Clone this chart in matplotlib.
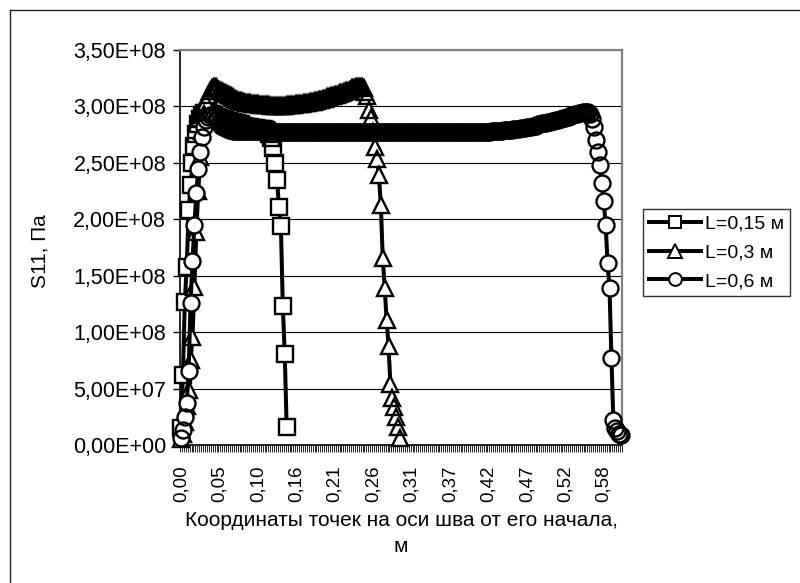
import numpy as np
import matplotlib
matplotlib.use('Agg')
import matplotlib.pyplot as plt
from matplotlib.lines import Line2D
from matplotlib.ticker import FixedLocator

plt.rcParams['font.family'] = ['Liberation Sans', 'DejaVu Sans']

# ---------------- data ----------------
n_categories = 230
label_every = 20
x_tick_labels = ['0,00', '0,05', '0,10', '0,16', '0,21', '0,26',
                 '0,31', '0,37', '0,42', '0,47', '0,52', '0,58']

y_ticks = [0.0, 0.5e8, 1.0e8, 1.5e8, 2.0e8, 2.5e8, 3.0e8, 3.5e8]
y_tick_labels = ['0,00E+00', '5,00E+07', '1,00E+08', '1,50E+08',
                 '2,00E+08', '2,50E+08', '3,00E+08', '3,50E+08']

series_names = ['L=0,15 м', 'L=0,3 м', 'L=0,6 м']

# S11 values in units of 1e8 Pa
s11_L015 = [
    0.15, 0.62, 1.27, 1.58, 2.08, 2.30, 2.50, 2.65, 2.76, 2.84,
    2.89, 2.92, 2.94, 2.94, 2.94, 2.93, 2.93, 2.92, 2.91, 2.91,
    2.90, 2.89, 2.89, 2.88, 2.87, 2.87, 2.86, 2.86, 2.85, 2.85,
    2.84, 2.84, 2.83, 2.83, 2.82, 2.82, 2.82, 2.81, 2.81, 2.81,
    2.80, 2.80, 2.80, 2.80, 2.79, 2.78, 2.76, 2.72, 2.63, 2.50,
    2.35, 2.11, 1.94, 1.23, 0.81, 0.16,
]

s11_L03 = [
    0.05, 0.10, 0.20, 0.35, 0.49, 0.75, 0.96, 1.40, 1.89, 2.25,
    2.55, 2.78, 2.93, 3.04, 3.10, 3.14, 3.16, 3.17, 3.17, 3.16,
    3.15, 3.14, 3.13, 3.12, 3.11, 3.10, 3.09, 3.08, 3.07, 3.06,
    3.05, 3.05, 3.04, 3.04, 3.03, 3.03, 3.03, 3.02, 3.02, 3.02,
    3.02, 3.01, 3.01, 3.01, 3.01, 3.01, 3.01, 3.00, 3.00, 3.00,
    3.00, 3.00, 3.00, 3.00, 3.00, 3.01, 3.01, 3.01, 3.01, 3.01,
    3.02, 3.02, 3.02, 3.02, 3.03, 3.03, 3.03, 3.04, 3.04, 3.04,
    3.05, 3.05, 3.06, 3.06, 3.07, 3.07, 3.08, 3.08, 3.09, 3.09,
    3.10, 3.10, 3.11, 3.12, 3.12, 3.13, 3.14, 3.14, 3.15, 3.16,
    3.16, 3.17, 3.17, 3.17, 3.17, 3.16, 3.13, 3.09, 2.97, 2.90,
    2.77, 2.64, 2.53, 2.39, 2.13, 1.66, 1.39, 1.11, 0.88, 0.54,
    0.42, 0.34, 0.25, 0.16, 0.06,
]

s11_L06 = [
    0.06, 0.13, 0.25, 0.37, 0.66, 1.26, 1.63, 1.95, 2.23, 2.45,
    2.60, 2.73, 2.82, 2.88, 2.91, 2.92, 2.92, 2.91, 2.89, 2.87,
    2.85, 2.83, 2.82, 2.81, 2.80, 2.79, 2.79, 2.78, 2.78, 2.78,
    2.78, 2.78, 2.78, 2.78, 2.78, 2.78, 2.78, 2.78, 2.78, 2.78,
    2.78, 2.78, 2.78, 2.77, 2.77, 2.77, 2.77, 2.77, 2.77, 2.77,
    2.77, 2.77, 2.77, 2.77, 2.77, 2.77, 2.77, 2.77, 2.77, 2.77,
    2.77, 2.77, 2.77, 2.77, 2.77, 2.77, 2.77, 2.77, 2.77, 2.77,
    2.77, 2.77, 2.77, 2.77, 2.77, 2.77, 2.77, 2.77, 2.77, 2.77,
    2.77, 2.77, 2.77, 2.77, 2.77, 2.77, 2.77, 2.77, 2.77, 2.77,
    2.77, 2.77, 2.77, 2.77, 2.77, 2.77, 2.77, 2.77, 2.77, 2.77,
    2.77, 2.77, 2.77, 2.77, 2.77, 2.77, 2.77, 2.77, 2.77, 2.77,
    2.77, 2.77, 2.77, 2.77, 2.77, 2.77, 2.77, 2.77, 2.77, 2.77,
    2.77, 2.77, 2.77, 2.77, 2.77, 2.77, 2.77, 2.77, 2.77, 2.77,
    2.77, 2.77, 2.77, 2.77, 2.77, 2.77, 2.77, 2.77, 2.77, 2.77,
    2.77, 2.77, 2.77, 2.77, 2.77, 2.77, 2.77, 2.77, 2.77, 2.77,
    2.77, 2.77, 2.77, 2.77, 2.77, 2.77, 2.77, 2.77, 2.77, 2.77,
    2.77, 2.77, 2.78, 2.78, 2.78, 2.78, 2.78, 2.78, 2.79, 2.79,
    2.79, 2.79, 2.79, 2.80, 2.80, 2.80, 2.80, 2.81, 2.81, 2.81,
    2.82, 2.82, 2.82, 2.83, 2.83, 2.83, 2.84, 2.84, 2.85, 2.85,
    2.85, 2.86, 2.86, 2.87, 2.87, 2.88, 2.88, 2.89, 2.89, 2.90,
    2.90, 2.91, 2.91, 2.92, 2.92, 2.93, 2.93, 2.94, 2.94, 2.95,
    2.95, 2.95, 2.95, 2.93, 2.89, 2.82, 2.70, 2.60, 2.48, 2.32,
    2.16, 1.95, 1.61, 1.39, 0.77, 0.22, 0.15, 0.12, 0.10, 0.09,
]

series_values = [s11_L015, s11_L03, s11_L06]
markers = ['s', '^', 'o']
marker_sizes = [11, 12, 11.5]

# ---------------- figure ----------------
W, H = 800, 583
fig = plt.figure(figsize=(W / 100, H / 100), dpi=100)
fig.patch.set_facecolor('white')

ax = fig.add_axes([180 / W, 1 - 445 / H, 442 / W, 395 / H])

handles = []
for k, (name, vals, mk, ms) in enumerate(zip(series_names, series_values, markers, marker_sizes)):
    y = np.array(vals) * 1e8
    x = np.arange(len(y))
    z = 3 + 3 * k
    # connecting line
    ax.plot(x, y, color='black', lw=2.9, zorder=z, clip_on=False)
    # marker fills first, then all marker outlines (Excel-like look)
    ax.plot(x, y, ls='none', marker=mk, markersize=ms, markerfacecolor='white',
            markeredgecolor='none', zorder=z + 1, clip_on=False)
    ax.plot(x, y, ls='none', marker=mk, markersize=ms, markerfacecolor='none',
            markeredgecolor='black', markeredgewidth=1.7, zorder=z + 2, clip_on=False)
    handles.append(Line2D([], [], color='black', lw=2.9, marker=mk, markersize=ms * 0.8,
                          markerfacecolor='white', markeredgecolor='black',
                          markeredgewidth=1.4, label=name))

ax.set_xlim(-0.5, n_categories - 0.5)
ax.set_ylim(0, 3.5e8)

# grid
ax.set_yticks(y_ticks, y_tick_labels)
ax.yaxis.grid(True, color='black', lw=0.8)
ax.set_axisbelow(True)

# x ticks
label_pos = [i * label_every for i in range(len(x_tick_labels))]
ax.set_xticks(label_pos, x_tick_labels, rotation=90)
ax.xaxis.set_minor_locator(FixedLocator(np.arange(-0.5, n_categories, 1.0)))
ax.tick_params(axis='x', which='major', length=0, pad=15, labelsize=13.5)
ax.tick_params(axis='x', which='minor', length=5, width=0.6, color='black')
ax.tick_params(axis='y', which='major', length=5, width=1, pad=5, labelsize=15.5)

for s in ['left', 'bottom']:
    ax.spines[s].set_color('black')
    ax.spines[s].set_linewidth(1.2)
for s in ['top', 'right']:
    ax.spines[s].set_color('#808080')
    ax.spines[s].set_linewidth(1.6)

# labels
fig.text(40 / W, 1 - 251 / H, 'S11, Па', rotation=90, ha='center', va='center', fontsize=15)
fig.text(401 / W, 1 - 521 / H, 'Координаты точек на оси шва от его начала,',
         ha='center', va='center', fontsize=15)
fig.text(401 / W, 1 - 547 / H, 'м', ha='center', va='center', fontsize=15)

# legend
leg = ax.legend(handles=handles, loc='upper left', bbox_to_anchor=(643 / W, 1 - 209 / H),
                bbox_transform=fig.transFigure, frameon=True, fancybox=False,
                edgecolor='black', fontsize=14, handlelength=2.7,
                borderaxespad=0, borderpad=0.3, labelspacing=0.58,
                handletextpad=0.2)
leg.get_frame().set_linewidth(1.0)

# outer chart border (partly clipped in the original)
fig.add_artist(Line2D([10 / W, 10 / W], [0, 1 - 10 / H], transform=fig.transFigure,
                      color='#222222', lw=1.0))
fig.add_artist(Line2D([10 / W, 1], [1 - 10 / H, 1 - 10 / H], transform=fig.transFigure,
                      color='#222222', lw=1.0))

fig.savefig('out.png', dpi=100)
